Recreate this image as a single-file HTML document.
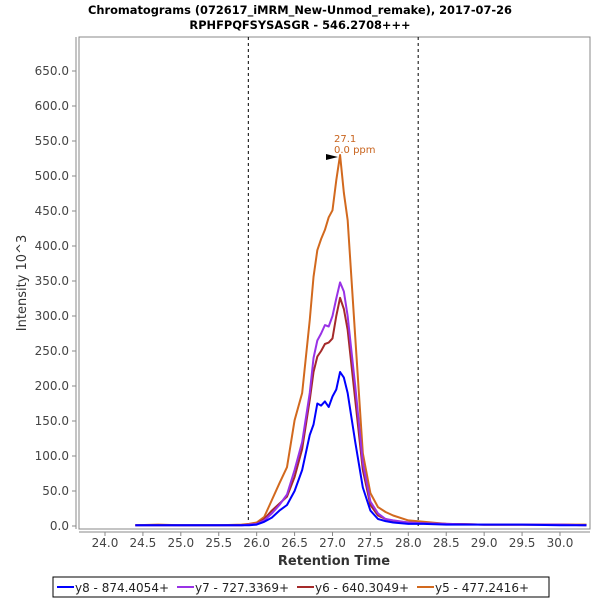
<!DOCTYPE html>
<html><head><meta charset="utf-8"><style>
body{margin:0;background:#fff;font-family:"Liberation Sans","DejaVu Sans",sans-serif}
svg text{font-family:"DejaVu Sans","Liberation Sans",sans-serif}
</style></head><body>
<svg id="c" width="600" height="600" xmlns="http://www.w3.org/2000/svg">
<text x="300" y="14" text-anchor="middle" font-size="11.4" font-weight="bold">Chromatograms (072617_iMRM_New-Unmod_remake), 2017-07-26</text>
<text x="300" y="29" text-anchor="middle" font-size="11.4" font-weight="bold">RPHFPQFSYSASGR - 546.2708+++</text>
<rect x="79" y="37" width="511" height="492" fill="#fff" stroke="#888"/>
<g id="grid"></g>
<g id="series"></g>
<g id="axes"></g>
<text x="334" y="565" text-anchor="middle" font-size="13" font-weight="bold" fill="#333">Retention Time</text>
<text transform="translate(26,283) rotate(-90)" text-anchor="middle" font-size="13" fill="#333">Intensity 10^3</text>
<g>
<polygon points="326,154 326,160 338,157" fill="#000"/>
<text x="334" y="142" font-size="10" fill="#c8641e">27.1</text>
<text x="334" y="153" font-size="10" fill="#c8641e">0.0 ppm</text>
</g>
<rect x="53" y="577" width="496" height="20" fill="#fff" stroke="#000"/>
<g id="legend"></g>
</svg>
<script>
const times=[24.4,24.7,25.0,25.5,25.8,25.9,26.0,26.1,26.2,26.3,26.4,26.5,26.6,26.7,26.75,26.8,26.85,26.9,26.95,27.0,27.05,27.1,27.15,27.2,27.3,27.4,27.5,27.6,27.7,27.8,28.0,28.2,28.5,29.0,29.5,30.0,30.35];
const y8=[1,1,1,1,1,1,2,6,12,22,30,50,80,130,145,175,172,178,170,185,195,220,212,190,120,55,22,10,7,5,3,3,2,2,2,1,1];
const y7=[1,1,1,1,1,2,3,8,18,30,45,80,120,190,240,265,275,287,285,300,325,348,335,300,200,90,35,18,10,8,5,4,3,2,2,2,1];
const y6=[1,1,1,1,1,2,3,10,22,32,42,70,110,180,220,242,250,260,262,268,300,326,310,280,180,80,30,15,10,7,5,4,3,2,2,2,1];
const y5=[1,2,1,1,2,3,5,13,37,61,84,151,190,294,356,394,410,423,441,451,494,530,476,437,270,104,47,27,20,15,8,6,3,2,2,2,2];
const seriesNames=["y8 - 874.4054+","y7 - 727.3369+","y6 - 640.3049+","y5 - 477.2416+"];
const seriesColors=["#0000ff","#9932e6","#a52a2a","#d2691e"];
const xTicks=[24.0,24.5,25.0,25.5,26.0,26.5,27.0,27.5,28.0,28.5,29.0,29.5,30.0];
const yTicks=[0,50,100,150,200,250,300,350,400,450,500,550,600,650];
const markers=[25.89,28.13];
const X=v=>105+(v-24)*75.83, Y=v=>526-v*0.7;
const NS="http://www.w3.org/2000/svg";
function mk(t,a,p){const e=document.createElementNS(NS,t);for(const k in a)e.setAttribute(k,a[k]);p.appendChild(e);return e;}
const ax=document.getElementById('axes'),g=document.getElementById('grid'),s=document.getElementById('series'),lg=document.getElementById('legend');
let l=mk('line',{x1:76,y1:37,x2:76,y2:529,stroke:'#888'},ax);


l=mk('line',{x1:79,y1:532,x2:590,y2:532,stroke:'#888'},ax);


yTicks.forEach(v=>{mk('line',{x1:72,y1:Y(v),x2:76,y2:Y(v),stroke:'#888'},ax);
const t=mk('text',{x:69,y:Y(v)+4,'text-anchor':'end','font-size':12,fill:'#444'},ax);t.textContent=v.toFixed(1);

});
xTicks.forEach(v=>{mk('line',{x1:X(v),y1:532,x2:X(v),y2:536,stroke:'#888'},ax);
const t=mk('text',{x:X(v),y:547,'text-anchor':'middle','font-size':12,fill:'#444'},ax);t.textContent=v.toFixed(1);

});
markers.forEach(v=>{const m=mk('line',{x1:X(v),y1:37,x2:X(v),y2:529,stroke:'#000','stroke-dasharray':'3,3'},g);

});
const data=[y8,y7,y6,y5];
[3,2,1,0].forEach(i=>{const p=mk('polyline',{points:times.map((t,j)=>X(t)+','+Y(data[i][j])).join(' '),fill:'none',stroke:seriesColors[i],'stroke-width':2,'stroke-linejoin':'round'},s);

});
const lx=[57,177,297,417];
seriesNames.forEach((n,i)=>{const gg=mk('g',{},lg);


mk('line',{x1:lx[i],y1:587,x2:lx[i]+17,y2:587,stroke:seriesColors[i],'stroke-width':2},gg);
const t=mk('text',{x:lx[i]+18,y:592,'font-size':12,fill:'#222'},gg);t.textContent=n;});
</script>
</body></html>
